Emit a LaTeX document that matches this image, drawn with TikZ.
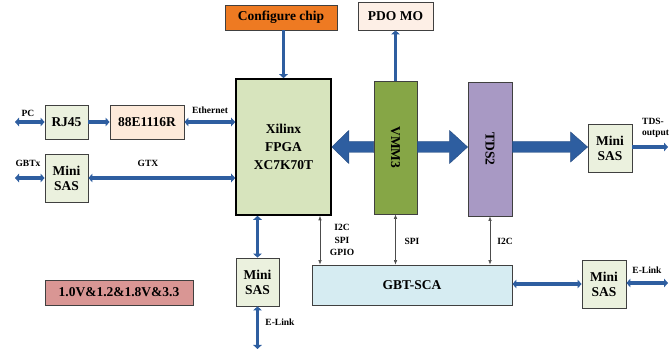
\documentclass[tikz,border=0pt]{standalone}
\usepackage{fontspec}
\setmainfont{Liberation Serif}
\usetikzlibrary{arrows.meta,calc}
\definecolor{ablue}{HTML}{2E5EA0}
\definecolor{sasfill}{HTML}{EBF1DE}
\definecolor{phyfill}{HTML}{FDEADA}
\definecolor{fpgafill}{HTML}{D7E4BD}
\definecolor{cfgfill}{HTML}{EE7A22}
\definecolor{pdofill}{HTML}{FDEFE6}
\definecolor{vmmfill}{HTML}{86A646}
\definecolor{tdsfill}{HTML}{A899C4}
\definecolor{pwrfill}{HTML}{D99694}
\definecolor{scafill}{HTML}{D6ECF2}
\begin{document}
\begin{tikzpicture}[x=1pt,y=-1pt,
 box/.style={draw=black!75, line width=0.8pt, inner sep=0pt, align=center,
   font=\bfseries\fontsize{13.5}{15}\selectfont},
 lab/.style={font=\bfseries\fontsize{9.5}{12.5}\selectfont, inner sep=0pt, align=center},
 bus/.style={draw=ablue, line width=3.5pt, {Triangle[length=4pt,width=8.5pt]}-{Triangle[length=4pt,width=8.5pt]}},
 busr/.style={draw=ablue, line width=3.5pt, -{Triangle[length=4pt,width=8.5pt]}},
 sig/.style={draw=black!70, line width=0.6pt, {Latex[length=4.5pt,width=3.5pt]}-{Latex[length=4.5pt,width=3.5pt]}},
 blk/.style={fill=ablue, draw=ablue!80!black, line width=0.4pt}]
\useasboundingbox (0,0) rectangle (670,352);

% boxes
\node[box, fill=sasfill, minimum width=43pt, minimum height=34pt] (rj) at (66.5,122) {RJ45};
\node[box, fill=phyfill, minimum width=74pt, minimum height=34pt] (phy) at (147,122) {88E1116R};
\node[box, fill=sasfill, minimum width=43pt, minimum height=48pt] (sasL) at (66.5,178) {Mini\\SAS};
\node[box, fill=fpgafill, draw=black, line width=1.6pt, minimum width=95pt, minimum height=136pt, font=\bfseries\fontsize{13.5}{18}\selectfont] (fpga) at (283.5,147) {Xilinx\\FPGA\\XC7K70T};
\node[box, fill=cfgfill, minimum width=112pt, minimum height=25pt] (cfg) at (281,17.5) {Configure chip};
\node[box, fill=pdofill, minimum width=75pt, minimum height=28pt] (pdo) at (395.5,16) {PDO MO};
\node[box, fill=vmmfill, minimum width=43pt, minimum height=133pt] (vmm) at (395.5,147.5) {};
\node[font=\bfseries\fontsize{13.5}{15}\selectfont, rotate=-90] at (vmm.center) {VMM3};
\node[box, fill=tdsfill, minimum width=44pt, minimum height=134pt] (tds) at (490,149) {};
\node[font=\bfseries\fontsize{13.5}{15}\selectfont, rotate=-90] at (tds.center) {TDS2};
\node[box, fill=sasfill, minimum width=44pt, minimum height=48pt] (sasR) at (610,148) {Mini\\SAS};
\node[box, fill=sasfill, minimum width=43pt, minimum height=48pt] (sasB) at (257.5,282) {Mini\\SAS};
\node[box, fill=pwrfill, minimum width=148pt, minimum height=25pt] (pwr) at (119,292.5) {1.0V\&1.2\&1.8V\&3.3};
\node[box, fill=scafill, minimum width=200pt, minimum height=40pt] (sca) at (412,285) {GBT-SCA};
\node[box, fill=sasfill, minimum width=44pt, minimum height=48pt] (sasBR) at (604,284) {Mini\\SAS};

% free ends
\coordinate (pcend) at (15,122);
\coordinate (gbtend) at (15,178);
\coordinate (tdsout) at (668,147);
\coordinate (elinkB) at (257.5,349);
\coordinate (elinkR) at (668,283);

% blue buses
\draw[bus] (pcend) -- (rj.west);
\draw[busr] (rj.east) -- (phy.west);
\draw[bus] (phy.east) -- (phy.east -| fpga.west);
\draw[bus] (gbtend) -- (sasL.west);
\draw[bus] (sasL.east) -- (sasL.east -| fpga.west);
\draw[busr] (cfg.south -| 283.5,0) -- (fpga.north);
\draw[busr] (vmm.north) -- (pdo.south -| vmm.north);
\draw[bus] (sasB.north) -- (sasB.north |- fpga.south);
\draw[bus] (sasB.south) -- (elinkB);
\draw[busr] (sasR.east |- tdsout) -- (tdsout);
\draw[bus] (sca.east |- sasBR.west) -- (sasBR.west);
\draw[bus] (sasBR.east |- elinkR) -- (elinkR);

% block arrows
\coordinate (t1) at (fpga.east);
\coordinate (b1) at (vmm.west |- fpga.east);
\fill[blk] (t1) -- ++(17,-16.5) -- ++(0,11) -- ($(b1)+(0,-5.5)$) -- ($(b1)+(0,5.5)$) -- ($(t1)+(17,5.5)$) -- ++(0,11) -- cycle;
\coordinate (t2) at (tds.west |- fpga.east);
\coordinate (b2) at (vmm.east |- fpga.east);
\fill[blk] (t2) -- ++(-18,-16.5) -- ++(0,11) -- ($(b2)+(0,-5.5)$) -- ($(b2)+(0,5.5)$) -- ($(t2)+(-18,5.5)$) -- ++(0,11) -- cycle;
\coordinate (t3) at (sasR.west |- fpga.east);
\coordinate (b3) at (tds.east |- fpga.east);
\fill[blk] (t3) -- ++(-17,-15) -- ++(0,9.5) -- ($(b3)+(0,-5.5)$) -- ($(b3)+(0,5.5)$) -- ($(t3)+(-17,5.5)$) -- ++(0,9.5) -- cycle;

% thin control signals
\draw[sig] (fpga.south -| 320,0) -- (sca.north -| 320,0);
\draw[sig] (vmm.south) -- (sca.north -| vmm.south);
\draw[sig] (tds.south) -- (sca.north -| tds.south);

% labels
\node[lab] at (28,113) {PC};
\node[lab] at (210,110) {Ethernet};
\node[lab] at (28,163) {GBTx};
\node[lab] at (148,163) {GTX};
\node[lab] at (342,240) {I2C\\SPI\\GPIO};
\node[lab] at (412,241) {SPI};
\node[lab] at (505,241) {I2C};
\node[lab] at (280,322) {E-Link};
\node[lab] at (647,270) {E-Link};
\node[lab] at (653,121) {TDS-};
\node[lab, anchor=west] at (642,134) {output};
\end{tikzpicture}
\end{document}
